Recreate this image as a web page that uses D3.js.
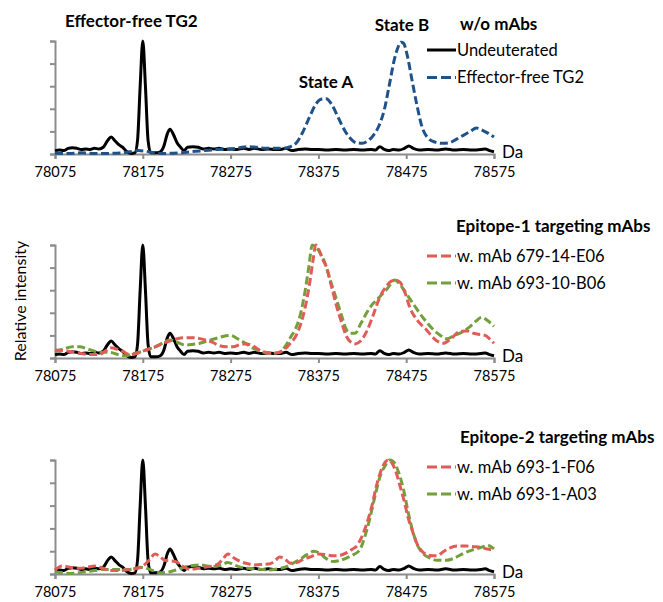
<!DOCTYPE html>
<html><head><meta charset="utf-8">
<script src="https://cdnjs.cloudflare.com/ajax/libs/d3/7.8.5/d3.min.js"></script>
<style>body{margin:0;background:#fff}svg{display:block}text{font-family:Lato,"Open Sans",sans-serif}</style>
</head><body>
<script>
// ---- data ----
const xTicks = [78075, 78175, 78275, 78375, 78475, 78575];

const undeutDa = [78075,78080,78085,78090,78095,78100,78105,78110,78115,78120,78125,78130,78135,78139,78143,78148,78152,78157,78162,78166,78169,78172,78175,78178,78181,78184,78190,78195,78199,78203,78206,78210,78214,78218,78222,78226,78232,78238,78244,78250,78256,78262,78268,78275,78282,78290,78296,78302,78310,78318,78325,78332,78338,78345,78352,78360,78368,78375,78385,78395,78405,78415,78425,78435,78440,78445,78450,78455,78460,78467,78473,78478,78483,78490,78500,78510,78520,78530,78540,78550,78560,78565,78570,78575];
const undeutInt = [0.03,0.035,0.03,0.05,0.055,0.05,0.04,0.045,0.04,0.05,0.045,0.06,0.12,0.15,0.12,0.08,0.06,0.02,0.005,0.01,0.12,0.6,1.0,0.6,0.12,0.01,0.01,0.02,0.07,0.18,0.22,0.17,0.1,0.06,0.03,0.06,0.065,0.06,0.045,0.05,0.045,0.05,0.04,0.045,0.04,0.05,0.04,0.05,0.04,0.045,0.04,0.04,0.05,0.03,0.04,0.045,0.04,0.04,0.035,0.04,0.035,0.04,0.035,0.04,0.035,0.065,0.04,0.03,0.04,0.035,0.05,0.07,0.05,0.035,0.04,0.035,0.045,0.035,0.04,0.035,0.04,0.045,0.03,0.02];

const tg2Da = [78075,78090,78105,78120,78135,78150,78160,78170,78178,78188,78200,78215,78230,78245,78260,78275,78285,78295,78305,78315,78325,78335,78343,78350,78357,78365,78372,78378,78384,78390,78396,78402,78410,78418,78425,78432,78438,78444,78450,78456,78461,78465,78469,78472,78476,78481,78487,78493,78500,78508,78516,78524,78532,78540,78548,78555,78562,78568,78575];
const tg2Int = [0.006,0.005,0.01,0.005,0.005,0.01,0.02,0.03,0.025,0.01,0.005,0.01,0.02,0.03,0.04,0.045,0.055,0.065,0.06,0.05,0.05,0.05,0.065,0.1,0.19,0.33,0.44,0.485,0.49,0.44,0.35,0.25,0.15,0.1,0.095,0.12,0.17,0.25,0.39,0.62,0.82,0.93,0.99,0.98,0.88,0.68,0.44,0.24,0.14,0.105,0.095,0.1,0.13,0.165,0.2,0.23,0.21,0.185,0.15];

const e06Da = [78075,78085,78095,78105,78115,78125,78132,78138,78145,78152,78160,78168,78175,78182,78190,78198,78206,78214,78222,78230,78238,78246,78254,78262,78270,78278,78286,78293,78300,78308,78315,78322,78330,78337,78343,78349,78354,78360,78365,78369,78372,78376,78380,78384,78390,78396,78402,78407,78412,78417,78423,78430,78437,78445,78452,78458,78463,78468,78474,78479,78488,78498,78507,78517,78526,78536,78544,78551,78558,78565,78570,78575];
const e06Int = [0.07,0.065,0.055,0.04,0.03,0.03,0.06,0.09,0.08,0.06,0.03,0.04,0.06,0.08,0.1,0.13,0.15,0.17,0.18,0.18,0.175,0.16,0.14,0.11,0.1,0.1,0.12,0.125,0.11,0.07,0.05,0.04,0.05,0.08,0.13,0.19,0.28,0.45,0.66,0.87,1.0,0.95,0.87,0.81,0.63,0.45,0.3,0.19,0.14,0.125,0.15,0.235,0.37,0.54,0.63,0.68,0.69,0.67,0.57,0.45,0.33,0.25,0.17,0.13,0.17,0.235,0.24,0.22,0.21,0.2,0.17,0.13];

const b06Da = [78075,78085,78095,78103,78112,78120,78130,78138,78147,78155,78165,78175,78182,78189,78197,78206,78214,78223,78231,78240,78248,78257,78266,78275,78283,78292,78300,78309,78320,78331,78337,78343,78349,78354,78360,78364,78368,78372,78377,78381,78388,78396,78402,78407,78412,78417,78423,78430,78436,78441,78447,78452,78457,78462,78468,78475,78483,78490,78498,78506,78514,78521,78530,78540,78548,78555,78561,78568,78575];
const b06Int = [0.055,0.08,0.1,0.1,0.08,0.06,0.05,0.05,0.03,0.02,0.04,0.06,0.08,0.1,0.13,0.16,0.14,0.115,0.12,0.13,0.15,0.17,0.19,0.2,0.17,0.13,0.09,0.06,0.04,0.05,0.1,0.18,0.26,0.37,0.6,0.8,1.0,0.98,0.93,0.87,0.7,0.51,0.36,0.25,0.22,0.22,0.3,0.4,0.47,0.51,0.56,0.6,0.65,0.69,0.65,0.57,0.48,0.4,0.32,0.25,0.2,0.17,0.2,0.235,0.28,0.33,0.36,0.33,0.28];

const f06Da = [78075,78083,78092,78103,78112,78120,78130,78138,78150,78160,78168,78175,78182,78189,78195,78200,78206,78212,78220,78229,78238,78246,78254,78261,78266,78272,78279,78286,78295,78303,78312,78320,78326,78331,78337,78343,78350,78358,78366,78375,78383,78392,78400,78408,78414,78418,78424,78430,78436,78441,78446,78452,78455,78459,78464,78468,78473,78477,78482,78487,78493,78498,78505,78510,78518,78525,78534,78544,78552,78559,78567,78575];
const f06Int = [0.035,0.07,0.06,0.05,0.06,0.07,0.05,0.03,0.03,0.04,0.05,0.07,0.12,0.175,0.15,0.12,0.115,0.11,0.07,0.04,0.05,0.06,0.07,0.09,0.13,0.175,0.14,0.11,0.09,0.08,0.085,0.09,0.12,0.15,0.13,0.095,0.1,0.13,0.15,0.175,0.17,0.16,0.165,0.19,0.22,0.24,0.32,0.44,0.6,0.77,0.9,0.99,1.0,0.97,0.88,0.77,0.63,0.5,0.38,0.27,0.2,0.17,0.16,0.16,0.2,0.23,0.245,0.245,0.24,0.235,0.22,0.21];

const a03Da = [78075,78083,78092,78100,78110,78120,78130,78138,78150,78160,78168,78175,78183,78190,78195,78206,78215,78223,78232,78240,78248,78257,78265,78272,78279,78286,78295,78303,78312,78320,78328,78337,78345,78354,78362,78370,78377,78383,78392,78400,78407,78415,78422,78428,78434,78440,78445,78451,78456,78460,78466,78472,78477,78483,78488,78494,78502,78510,78521,78530,78540,78550,78559,78568,78575];
const a03Int = [0.02,0.01,0.005,0.01,0.02,0.03,0.04,0.04,0.04,0.04,0.05,0.06,0.04,0.02,0.01,0.02,0.04,0.06,0.075,0.08,0.07,0.065,0.08,0.1,0.08,0.06,0.05,0.045,0.04,0.035,0.045,0.06,0.09,0.13,0.17,0.2,0.18,0.14,0.11,0.12,0.14,0.17,0.21,0.33,0.5,0.7,0.85,0.95,1.0,0.99,0.9,0.74,0.55,0.36,0.25,0.18,0.14,0.12,0.12,0.14,0.18,0.21,0.23,0.25,0.22];

const panelTitles = ["w/o mAbs", "Epitope-1 targeting mAbs", "Epitope-2 targeting mAbs"];
const legendLabels = [["Undeuterated", "Effector-free TG2"], ["w. mAb 679-14-E06", "w. mAb 693-10-B06"], ["w. mAb 693-1-F06", "w. mAb 693-1-A03"]];

// ---- drawing ----
const W = 663, H = 602;
const svg = d3.select("body").append("svg").attr("width", W).attr("height", H);
const x = d3.scaleLinear().domain([78075, 78575]).range([55, 494]);

const BLUE = "#1f5289", RED = "#e05c57", GREEN = "#73a03a", AXIS = "#8c8c8c";
const DASH = "8,3.5";
const zip = (a, b) => a.map((d, i) => ({x: d, y: b[i]}));

const panels = [
  {top: 41, bottom: 154, series: [
    {data: zip(undeutDa, undeutInt), color: "#000", dash: null},
    {data: zip(tg2Da, tg2Int), color: BLUE, dash: DASH}],
   legend: {tx: 460, ty: 24, y1: 50, y2: 77.5, colors: [["#000", null], [BLUE, DASH]]}},
  {top: 245, bottom: 358, series: [
    {data: zip(undeutDa, undeutInt), color: "#000", dash: null},
    {data: zip(b06Da, b06Int), color: GREEN, dash: DASH},
    {data: zip(e06Da, e06Int), color: RED, dash: DASH}],
   legend: {tx: 456, ty: 226, y1: 256, y2: 283, colors: [[RED, DASH], [GREEN, DASH]]}},
  {top: 460, bottom: 574, series: [
    {data: zip(undeutDa, undeutInt), color: "#000", dash: null},
    {data: zip(a03Da, a03Int), color: GREEN, dash: DASH},
    {data: zip(f06Da, f06Int), color: RED, dash: DASH}],
   legend: {tx: 460, ty: 437, y1: 467, y2: 494, colors: [[RED, DASH], [GREEN, DASH]]}}
];

panels.forEach((p, pi) => {
  const y = d3.scaleLinear().domain([0, 1]).range([p.bottom, p.top]);
  const g = svg.append("g");
  const ya = g.append("g").attr("transform", `translate(55,0)`)
    .call(d3.axisLeft(y).tickValues([0, 0.2, 0.4, 0.6, 0.8, 1]).tickSize(5).tickFormat(""));
  ya.select(".domain").attr("stroke", AXIS).attr("stroke-width", 2);
  ya.selectAll(".tick line").attr("stroke", AXIS).attr("stroke-width", 2);
  const xa = g.append("g").attr("transform", `translate(0,${p.bottom})`)
    .call(d3.axisBottom(x).tickValues(xTicks).tickSize(5).tickPadding(8).tickFormat(d3.format("d")));
  xa.select(".domain").attr("stroke", AXIS).attr("stroke-width", 2);
  xa.selectAll(".tick line").attr("stroke", AXIS).attr("stroke-width", 2);
  xa.selectAll(".tick text").attr("font-size", 14.5).attr("fill", "#000")
    .attr("font-family", "Lato, sans-serif");
  const line = d3.line().x(d => x(d.x)).y(d => y(d.y)).curve(d3.curveMonotoneX);
  p.series.forEach(s => {
    g.append("path").datum(s.data).attr("d", line).attr("fill", "none")
      .attr("stroke", s.color).attr("stroke-width", 3)
      .attr("stroke-dasharray", s.dash).attr("stroke-linejoin", "round");
  });
  g.append("text").attr("x", 502).attr("y", p.bottom - 2).attr("dy", "0.35em")
    .attr("font-size", 17).text("Da");
  const L = p.legend;
  g.append("text").attr("x", L.tx).attr("y", L.ty).attr("dy", "0.35em")
    .attr("font-size", 17).attr("font-weight", "bold").text(panelTitles[pi]);
  [L.y1, L.y2].forEach((ly, i) => {
    g.append("line").attr("x1", 427).attr("x2", 456).attr("y1", ly).attr("y2", ly)
      .attr("stroke", L.colors[i][0]).attr("stroke-width", 3)
      .attr("stroke-dasharray", L.colors[i][1] ? "10,4" : null);
    g.append("text").attr("x", 457).attr("y", ly).attr("dy", "0.35em")
      .attr("font-size", 16.5).text(legendLabels[pi][i]);
  });
});

svg.append("text").attr("x", 65).attr("y", 21).attr("dy", "0.35em")
  .attr("font-size", 17).attr("font-weight", "bold").text("Effector-free TG2");
svg.append("text").attr("x", 326).attr("y", 82).attr("dy", "0.35em").attr("text-anchor", "middle")
  .attr("font-size", 17).attr("font-weight", "bold").text("State A");
svg.append("text").attr("x", 402).attr("y", 25).attr("dy", "0.35em").attr("text-anchor", "middle")
  .attr("font-size", 17).attr("font-weight", "bold").text("State B");
svg.append("text").attr("transform", "translate(20,301) rotate(-90)").attr("dy", "0.35em")
  .attr("text-anchor", "middle").attr("font-size", 16).text("Relative intensity");
</script>
</body></html>
